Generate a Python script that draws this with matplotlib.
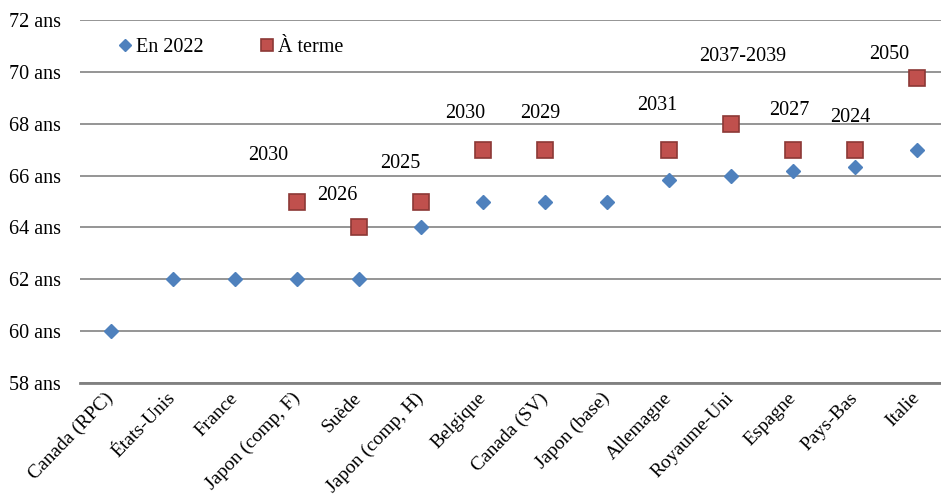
import matplotlib
matplotlib.use("Agg")
import matplotlib.pyplot as plt
import numpy as np

plt.rcParams['font.family'] = ['Liberation Serif', 'DejaVu Serif']

pays = ['Canada (RPC)', 'États-Unis', 'France', 'Japon (comp, F)', 'Suède',
        'Japon (comp, H)', 'Belgique', 'Canada (SV)', 'Japon (base)',
        'Allemagne', 'Royaume-Uni', 'Espagne', 'Pays-Bas', 'Italie']
age_2022 = [60, 62, 62, 62, 62, 64, 65, 65, 65, 65.83, 66, 66.17, 66.33, 67]
age_terme = [None, None, None, 65, 64, 65, 67, 67, None, 67, 68, 67, 67, 69.75]
annee_terme = [None, None, None, '2030', '2026', '2025', '2030', '2029', None,
               '2031', '2037-2039', '2027', '2024', '2050']
yticks = [58, 60, 62, 64, 66, 68, 70, 72]

# label offsets in pixels (dx, dy), placed by hand like the original
offsets = [None, None, None, (-29, 46), (-22, 32), (-21, 38), (-18, 36),
           (-5, 36), None, (-12, 44), (12, 67), (-4, 39), (-5, 32), (-28, 24)]

fig = plt.figure(figsize=(9.41, 5.03), dpi=100)
ax = fig.add_axes([0.085, 0.2386, 0.915, 0.7216])

x = np.arange(len(pays))
t = np.array([np.nan if v is None else v for v in age_terme])

ax.plot(x, age_2022, linestyle='none', marker='D', markersize=7.5,
        color='#4F81BD', label='En 2022', zorder=3)
ax.plot(x, t, linestyle='none', marker='s', markersize=11,
        markerfacecolor='#C0504D', markeredgecolor='#8C3836',
        markeredgewidth=1.2, label='À terme', zorder=3)

for i, lab in enumerate(annee_terme):
    if lab is None:
        continue
    ax.annotate(lab, (x[i], age_terme[i]), xytext=offsets[i],
                textcoords='offset pixels', ha='center', va='center',
                fontsize=14.5)

ax.set_xlim(-0.5, 13.39)
ax.set_ylim(58, 72)
ax.set_yticks(yticks)
ax.set_yticklabels([f'{v} ans' for v in yticks], fontsize=14.5)
ax.set_xticks(x)
ax.set_xticklabels(pays, rotation=46, ha='right', va='center',
                   rotation_mode='anchor', fontsize=14)
ax.tick_params(length=0)
ax.tick_params(axis='y', pad=14)
ax.tick_params(axis='x', pad=9)

ax.grid(axis='y', color='#8C8C8C', linewidth=1.3)
ax.set_axisbelow(True)
for s in ['left', 'right', 'top']:
    ax.spines[s].set_visible(False)
ax.spines['bottom'].set_color('#808080')
ax.spines['bottom'].set_linewidth(2)

ax.legend(loc='upper left', bbox_to_anchor=(0.02, 1.0), ncol=2, frameon=False,
          fontsize=14.5, handletextpad=0.05, columnspacing=2.6, handlelength=1.0,
          markerscale=0.85)

fig.savefig('out.png', dpi=100)
